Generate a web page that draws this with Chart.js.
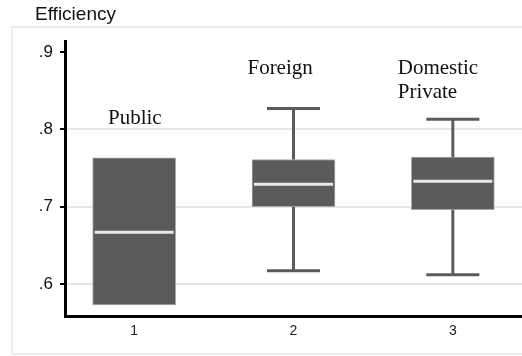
<!DOCTYPE html>
<html>
<head>
<meta charset="utf-8">
<script src="https://cdn.jsdelivr.net/npm/chart.js@4.4.0/dist/chart.umd.min.js"></script>
<style>
  html, body { margin: 0; padding: 0; background: #ffffff; }
  #wrap { width: 522px; height: 356px; position: relative; }
</style>
</head>
<body>
<div id="wrap"><canvas id="c" width="522" height="356"></canvas></div>
<script>
// ---- data ----
const positions   = [1, 2, 3];
const tickLabels  = ['1', '2', '3'];
const groupNames  = [['Public'], ['Foreign'], ['Domestic', 'Private']];
const q1          = [0.573, 0.700, 0.696];
const q3          = [0.763, 0.761, 0.764];
const medians     = [0.667, 0.729, 0.733];
const whiskerLow  = [null, 0.617, 0.612];
const whiskerHigh = [null, 0.827, 0.813];
const yTicks      = [0.6, 0.7, 0.8, 0.9];
const yTickLabels = ['.6', '.7', '.8', '.9'];
const nameX       = [0.836, 1.711, 2.654];   // left edge of each group name (x units)
const nameY       = [0.814, 0.879, 0.879];

const boxData = positions.map((p, i) => ({ x: p, y: [q1[i], q3[i]] }));

const SANS = "'Liberation Sans', Arial, sans-serif";
const SERIF = "'Liberation Serif', 'Times New Roman', serif";

const framePlugin = {
  id: 'frame',
  beforeDraw(chart) {
    const ctx = chart.ctx;
    ctx.save();
    ctx.fillStyle = '#ffffff';
    ctx.fillRect(0, 0, chart.width, chart.height);
    ctx.strokeStyle = '#ebebeb';
    ctx.lineWidth = 2;
    ctx.strokeRect(12, 27, 600, 327);
    ctx.fillStyle = '#111111';
    ctx.font = '19px ' + SANS;
    ctx.textBaseline = 'alphabetic';
    ctx.textAlign = 'left';
    ctx.fillText('Efficiency', 35, 20);
    ctx.restore();
  }
};

const boxExtras = {
  id: 'boxExtras',
  afterDatasetsDraw(chart) {
    const ctx = chart.ctx;
    const xs = chart.scales.x, ys = chart.scales.y;
    ctx.save();
    positions.forEach((p, i) => {
      const x = xs.getPixelForValue(p);
      ctx.strokeStyle = '#5b5b5b';
      ctx.lineWidth = 3;
      ctx.lineCap = 'butt';
      if (whiskerHigh[i] != null) {
        const yt = ys.getPixelForValue(whiskerHigh[i]);
        ctx.beginPath();
        ctx.moveTo(x, ys.getPixelForValue(q3[i]));
        ctx.lineTo(x, yt);
        ctx.moveTo(x - 26.5, yt);
        ctx.lineTo(x + 26.5, yt);
        ctx.stroke();
      }
      if (whiskerLow[i] != null) {
        const yb = ys.getPixelForValue(whiskerLow[i]);
        ctx.beginPath();
        ctx.moveTo(x, ys.getPixelForValue(q1[i]));
        ctx.lineTo(x, yb);
        ctx.moveTo(x - 26.5, yb);
        ctx.lineTo(x + 26.5, yb);
        ctx.stroke();
      }
      const ym = ys.getPixelForValue(medians[i]);
      ctx.strokeStyle = '#e8e8e8';
      ctx.lineWidth = 3;
      ctx.beginPath();
      ctx.moveTo(x - 39.5, ym);
      ctx.lineTo(x + 39.5, ym);
      ctx.stroke();

      // group names
      ctx.fillStyle = '#111111';
      ctx.font = '21px ' + SERIF;
      ctx.textAlign = 'left';
      ctx.textBaseline = 'middle';
      const nx = xs.getPixelForValue(nameX[i]);
      const ny = ys.getPixelForValue(nameY[i]);
      groupNames[i].forEach((t, k) => ctx.fillText(t, nx, ny + k * 24));
    });
    ctx.restore();
  }
};

new Chart(document.getElementById('c'), {
  type: 'bar',
  data: {
    datasets: [{
      data: boxData,
      backgroundColor: '#5b5b5b',
      borderColor: '#a8a8a8',
      borderWidth: 1,
      borderSkipped: false,
      barThickness: 83
    }]
  },
  options: {
    responsive: false,
    animation: false,
    layout: { padding: { left: 0, right: 0, top: 41, bottom: 0 } },
    plugins: { legend: { display: false }, tooltip: { enabled: false }, title: { display: false } },
    scales: {
      x: {
        type: 'linear',
        offset: false,
        min: 0.566,
        max: 3.434,
        afterBuildTicks(s) { s.ticks = positions.map(v => ({ value: v })); },
        afterFit(s) { s.height = 40; },
        grid: { display: false, drawTicks: false, offset: false },
        border: { display: true, color: '#000000', width: 3 },
        ticks: {
          padding: 7,
          color: '#222222',
          font: { family: SANS, size: 14 },
          callback(v) { const i = positions.indexOf(v); return i >= 0 ? tickLabels[i] : ''; },
          maxRotation: 0
        }
      },
      y: {
        min: 0.5586,
        max: 0.9142,
        afterBuildTicks(s) { s.ticks = yTicks.map(v => ({ value: v })); },
        afterFit(s) { s.width = 65; },
        grid: {
          color(c) { return c.tick && Math.abs(c.tick.value - 0.9) < 1e-6 ? 'rgba(0,0,0,0)' : '#e6e6e6'; },
          lineWidth: 2,
          drawTicks: true,
          tickLength: 5,
          tickColor: '#000000',
          tickWidth: 2
        },
        border: { display: true, color: '#000000', width: 3 },
        ticks: {
          padding: 7,
          color: '#111111',
          font: { family: SANS, size: 17 },
          callback(v) { const i = yTicks.findIndex(t => Math.abs(t - v) < 1e-6); return i >= 0 ? yTickLabels[i] : ''; }
        }
      }
    }
  },
  plugins: [framePlugin, boxExtras]
});
</script>
</body>
</html>
